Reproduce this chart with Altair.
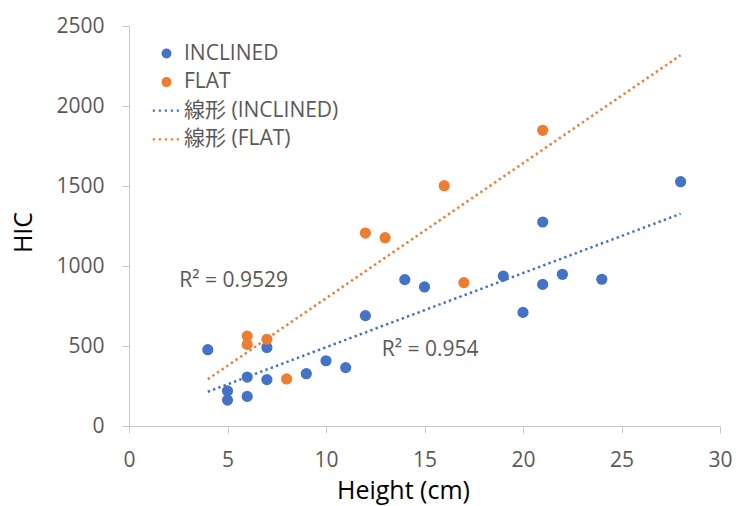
import altair as alt
import pandas as pd

# ---- data ----
inclined_height = [4, 5, 5, 6, 6, 7, 7, 9, 10, 11, 12, 14, 15, 19, 20, 21, 21, 22, 24, 28]
inclined_hic = [477, 219, 162, 306, 185, 491, 290, 327, 408, 365, 690, 915, 869, 937, 710,
                1275, 885, 948, 917, 1527]
flat_height = [6, 6, 7, 8, 12, 13, 16, 17, 21]
flat_hic = [562, 510, 542, 294, 1206, 1177, 1502, 896, 1848]

series_names = ["INCLINED", "FLAT"]
legend_labels = ["INCLINED", "FLAT", "線形 (INCLINED)", "線形 (FLAT)"]
trend_extent = [4, 28]

r2_labels = ["R² = 0.9529", "R² = 0.954"]
r2_height = [2.55, 12.83]
r2_hic = [906, 477]

x_ticks = [0, 5, 10, 15, 20, 25, 30]
y_ticks = [0, 500, 1000, 1500, 2000, 2500]

# ---- styling ----
BLUE = "#4472C4"
ORANGE = "#ED7D31"
GREY_TEXT = "#595959"
AXIS_GREY = "#C8C8C8"
FONT = "Open Sans, Noto Sans CJK JP, sans-serif"
DOT_PATH = ("M-2.75,-0.22h0.44v0.44h-0.44Z M-1.55,-0.22h0.44v0.44h-0.44Z "
            "M-0.35,-0.22h0.44v0.44h-0.44Z M0.85,-0.22h0.44v0.44h-0.44Z M2.05,-0.22h0.44v0.44h-0.44Z")

df = pd.DataFrame({
    "Height": inclined_height + flat_height,
    "HIC": inclined_hic + flat_hic,
    "series": [series_names[0]] * len(inclined_height) + [series_names[1]] * len(flat_height),
})
ann = pd.DataFrame({"Height": r2_height, "HIC": r2_hic, "label": r2_labels})

x_enc = alt.X(
    "Height:Q",
    scale=alt.Scale(domain=[0, 30], nice=False),
    axis=alt.Axis(
        values=x_ticks, title="Height (cm)", grid=False, labelFlush=False, format="d",
        labelFontSize=21, labelColor=GREY_TEXT, labelFont=FONT, labelPadding=16,
        tickSize=7, tickColor=AXIS_GREY, domainColor=AXIS_GREY,
        titleFontSize=25, titleColor="#000000", titleFont=FONT, titleFontWeight="normal",
        titleX=274, titleY=72, titleBaseline="alphabetic", titleAlign="center",
    ),
)
y_enc = alt.Y(
    "HIC:Q",
    scale=alt.Scale(domain=[0, 2500], nice=False),
    axis=alt.Axis(
        values=y_ticks, title="HIC", grid=False, format="d",
        labelFontSize=21, labelColor=GREY_TEXT, labelFont=FONT, labelPadding=18,
        tickSize=7, tickColor=AXIS_GREY, domainColor=AXIS_GREY,
        titleFontSize=25, titleColor="#000000", titleFont=FONT, titleFontWeight="normal",
        titleX=-106, titleY=206, titleAngle=-90, titleAlign="center", titleBaseline="middle",
    ),
)

legend = alt.Legend(
    title=None, orient="none", legendX=27, legendY=17, padding=0,
    rowPadding=6.6, labelFontSize=21, labelColor=GREY_TEXT, labelFont=FONT,
    symbolSize=100, labelOffset=7, symbolStrokeWidth=0,
)

lines = alt.Chart(df).transform_regression(
    "Height", "HIC", groupby=["series"], extent=trend_extent
).mark_line(strokeDash=[2.4, 3.2], strokeWidth=2.5).encode(
    x=x_enc,
    y=y_enc,
    stroke=alt.Stroke("series:N", scale=alt.Scale(domain=series_names, range=[BLUE, ORANGE]),
                      legend=None),
)

points = alt.Chart(df).mark_point(filled=True, size=125, opacity=1).encode(
    x=x_enc,
    y=y_enc,
    color=alt.Color("series:N",
                    scale=alt.Scale(domain=legend_labels, range=[BLUE, ORANGE, BLUE, ORANGE]),
                    legend=legend),
    shape=alt.Shape("series:N",
                    scale=alt.Scale(domain=legend_labels,
                                    range=["circle", "circle", DOT_PATH, DOT_PATH]),
                    legend=legend),
)

texts = alt.Chart(ann).mark_text(
    align="left", baseline="middle", fontSize=21, color=GREY_TEXT, font=FONT
).encode(x="Height:Q", y="HIC:Q", text="label:N")

chart = alt.layer(lines, points, texts).properties(
    width=591, height=400,
    autosize=alt.AutoSizeParams(type="none"),
    padding={"left": 129, "top": 26, "right": 16, "bottom": 80},
).configure_view(strokeWidth=0)

chart.save("out.html", embed_options={"renderer": "svg", "actions": False})
